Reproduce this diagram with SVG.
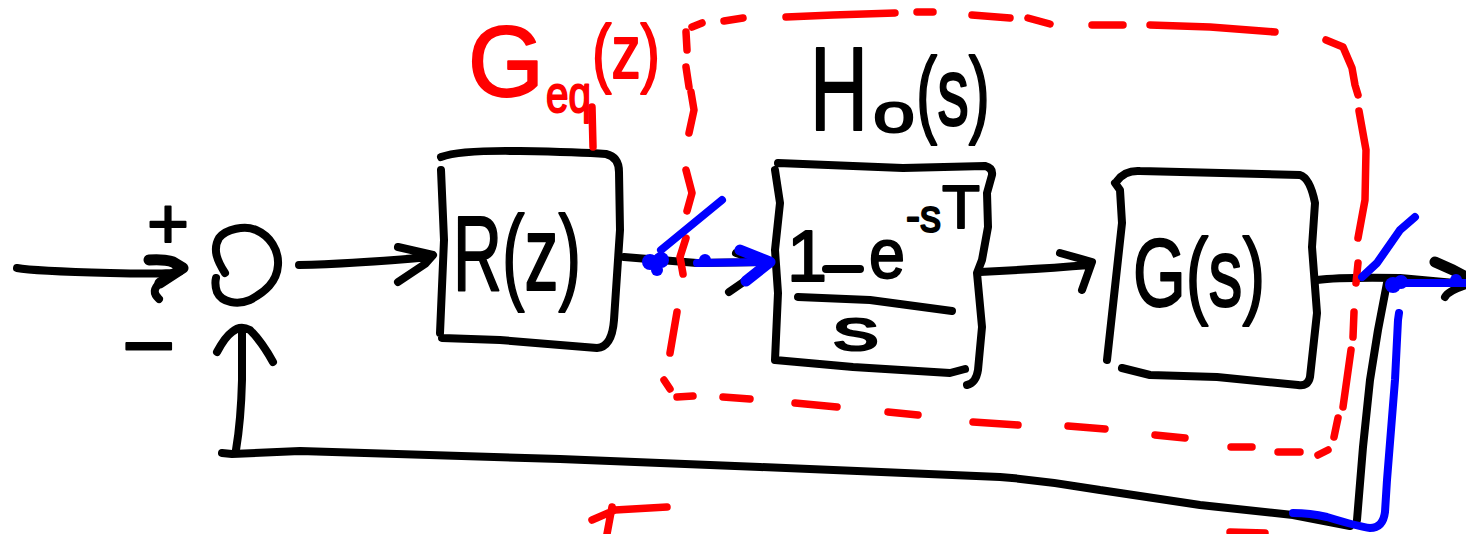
<svg xmlns="http://www.w3.org/2000/svg" width="1466" height="534" viewBox="0 0 1466 534">
<style>
.k,.kk,.r,.b,.bb{fill:none;stroke-linecap:round;stroke-linejoin:round}
.k{stroke:#000;stroke-width:8}.kk{stroke:#000;stroke-width:11}
.r{stroke:#f00;stroke-width:7.5}.b{stroke:#00f;stroke-width:8}.bb{stroke:#00f;stroke-width:11}
.hk,.hr{font-family:"Liberation Sans",Arial,sans-serif;stroke-width:2;stroke-linejoin:round}
.hk{fill:#000;stroke:#000}.hr{fill:#f00;stroke:#f00}
.bd{fill:#00f}
</style>
<rect width="1466" height="534" fill="#fff"/>
<g id="connectors">
<path class="k" d="M17 268Q33 271 110 273T180 270"/>
<path class="kk" d="M149 260Q165 259 173 262L183 268L160 283"/>
<path class="k" d="M160 283Q150 291 159 299"/>
<path class="k" d="M299 265Q350 264 430 257M398 282L425 264L433 255L398 247"/>
<path class="k" d="M624 257L697 263L770 262M736 253L748 257M729 292L758 272"/>
<path class="k" d="M980 272Q1040 269 1090 265M1060 253L1092 262L1082 290"/>
<path class="k" d="M1317 280Q1340 277 1400 278L1466 284M1445 297Q1448 291 1466 285"/>
<path class="kk" d="M1435 262L1453 270L1466 277"/>
<path class="k" d="M1387 283L1378 330L1370 380L1363 447L1357 520"/>
<path class="k" d="M1350 526L1293 515L1200 505L1100 490Q1050 481 1000 477L760 467L560 459L300 451L232 454L222 453"/>
<path class="k" d="M236 450Q241 420 242 380L242 330M217 352Q225 337 232 332Q240 325 250 330Q262 342 273 362"/>
</g>
<g id="block-r">
<path class="k" d="M441 157Q460 150 520 151T606 154Q619 157 619 172L620 230L614 320Q612 347 597 348L560 345L500 340L442 338M441 170L444 240L440 333"/>
<text class="hk" x="453" y="290" font-size="105" textLength="128" lengthAdjust="spacingAndGlyphs">R(z)</text>
</g>
<g id="block-h">
<path class="k" d="M778 163L903 168L985 166Q993 168 992 175L987 193L988 227L982 260L977 273L982 327L978 370Q976 383 967 385M775 170L780 203L775 250L778 293L775 360L853 367L950 373L965 369"/>
<text class="hk" x="787" y="281" font-size="72">1</text>
<path class="k" d="M826 269L860 269"/>
<text class="hk" x="869" y="278" font-size="70" textLength="36" lengthAdjust="spacingAndGlyphs">e</text>
<text class="hk" x="906" y="232" font-size="46" textLength="35" lengthAdjust="spacingAndGlyphs">-s</text>
<text class="hk" x="942" y="228" font-size="62" textLength="38" lengthAdjust="spacingAndGlyphs">T</text>
<path class="k" d="M798 297L870 300L952 311"/>
<text class="hk" x="833" y="350" font-size="60" textLength="46" lengthAdjust="spacingAndGlyphs">s</text>
<text class="hk" x="810" y="130" font-size="118" textLength="58" lengthAdjust="spacingAndGlyphs">H</text>
<text class="hk" x="873" y="132" font-size="56" textLength="42" lengthAdjust="spacingAndGlyphs">o</text>
<text class="hk" x="916" y="125" font-size="96" textLength="74" lengthAdjust="spacingAndGlyphs">(s)</text>
</g>
<g id="block-g">
<path class="k" d="M1117 181Q1125 170 1140 171L1300 175Q1310 178 1315 203L1312 247L1317 313L1310 377Q1308 387 1298 385L1217 377L1150 375L1122 368M1115 183L1120 190L1122 223L1107 360"/>
<text class="hk" x="1133" y="306" font-size="96" textLength="132" lengthAdjust="spacingAndGlyphs">G(s)</text>
</g>
<g id="sum">
<path class="k" d="M225 273C218 262 212 250 219 238C226 229 245 225 256 230C270 236 279 250 278 265C277 282 265 292 250 300C238 305 222 303 217 292C215 286 215 282 216 278"/>
<text class="hk" x="147" y="248" font-size="72">+</text>
<text class="hk" x="122" y="377" font-size="92">−</text>
</g>
<g id="group-geq">
<path class="r" d="M592 107L593 147"/>
<path class="r" d="M692 27L702 23M724 21L743 18M786 17L833 15L895 13M917 12L933 12M972 15L1010 18M1028 18L1050 24M1092 25L1123 25M1150 25L1210 27L1275 32M1326 40L1343 47L1352 68L1355 85L1358 95M1359 111L1366 150L1365 200L1358 238M1358 263L1356 283M1354 312L1353 337M1351 350L1343 407M1338 418L1334 437M1328 450L1318 455M1300 452L1278 452M1252 447L1231 447M1185 438L1155 435M1105 429L1068 426M1018 425L973 422M918 415L888 412M837 407L795 403M750 399L723 397M693 396L677 397M670 389L664 380M670 353L677 312M686 32L687 50M686 67L689 87M691 92L694 110L689 133M686 170L692 193L687 211M686 238L680 257L683 274"/>
<path class="r" d="M592 520L615 510L667 507M612 507L607 534M1230 532L1265 533"/>
<text class="hr" x="468" y="96" font-size="100" textLength="76" lengthAdjust="spacingAndGlyphs">G</text>
<text class="hr" x="546" y="112" font-size="52" textLength="45" lengthAdjust="spacingAndGlyphs">eq</text>
<text class="hr" x="592" y="78" font-size="76" textLength="68" lengthAdjust="spacingAndGlyphs">(z)</text>
</g>
<g id="sampling">
<path class="b" d="M722 200L661 250"/>
<circle class="bd" cx="650" cy="262" r="8"/>
<circle class="bd" cx="661" cy="260" r="8"/>
<circle class="bd" cx="657" cy="270" r="6"/>
<circle class="bd" cx="705" cy="260" r="6"/>
<path class="b" d="M697 263L770 262"/>
<path class="bb" d="M740 250L770 262L746 281"/>
<path class="b" d="M1362 277L1377 263L1400 230L1415 217"/>
<circle class="bd" cx="1393" cy="285" r="8"/>
<circle class="bd" cx="1401" cy="282" r="7"/>
<path class="b" d="M1395 283L1466 283"/>
<circle class="bd" cx="1456" cy="280" r="6"/>
<path class="b" d="M1399 313L1398 320L1395 380L1387 480L1385 512Q1383 528 1370 528Q1360 527 1327 517Q1310 513 1293 513"/>
</g>
</svg>
